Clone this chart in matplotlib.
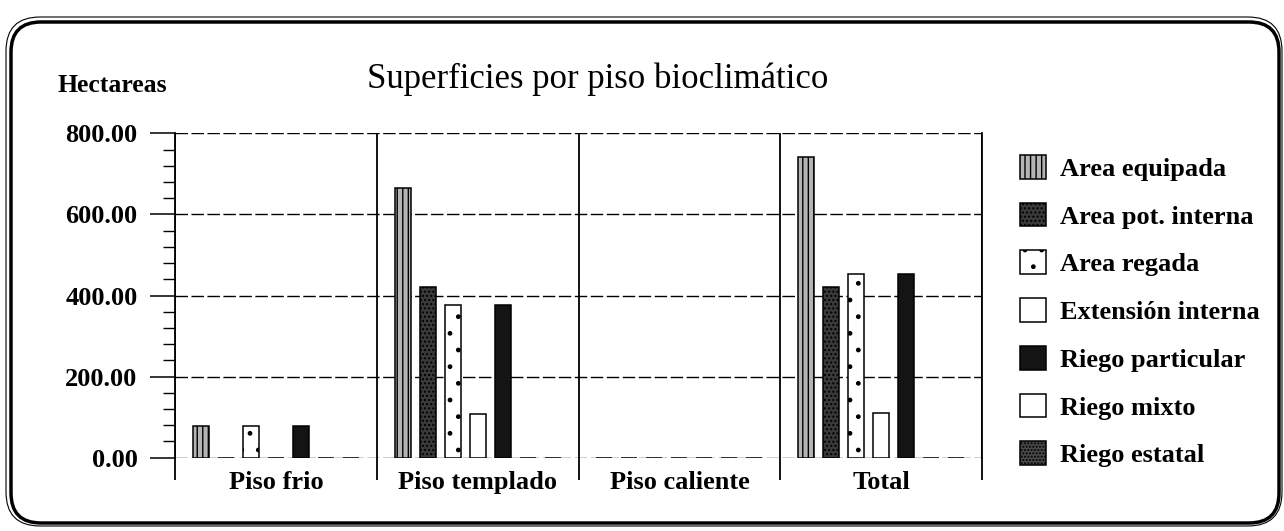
import matplotlib
matplotlib.use("Agg")
import matplotlib.pyplot as plt
import numpy as np
from matplotlib.patches import FancyBboxPatch
from matplotlib.transforms import IdentityTransform
from matplotlib.ticker import MultipleLocator, FixedLocator

plt.rcParams['font.family'] = ['Liberation Serif', 'DejaVu Serif']

# datos (hectareas)
pisos = ['Piso frio', 'Piso templado', 'Piso caliente', 'Total']
series = ['Area equipada', 'Area pot. interna', 'Area regada', 'Extensión interna',
          'Riego particular', 'Riego mixto', 'Riego estatal']
area_equipada = [78, 666, 0, 742]
area_pot_interna = [0, 420, 0, 420]
area_regada = [78, 377, 0, 454]
extension_interna = [0, 108, 0, 110]
riego_particular = [78, 377, 0, 454]
riego_mixto = [0, 0, 0, 0]
riego_estatal = [0, 0, 0, 0]
valores = [area_equipada, area_pot_interna, area_regada, extension_interna,
           riego_particular, riego_mixto, riego_estatal]

# estilos (relleno, trama)
estilos = [('#b4b4b4', '|||'), ('#3a3a3a', '....'), ('white', '.'), ('white', ''),
           ('#141414', ''), ('white', ''), ('#4a4a4a', '.....')]

fig = plt.figure(figsize=(12.84, 5.31), dpi=100)
ax = fig.add_axes([0.1363, 0.1384, 0.6285, 0.6102])

x = np.arange(len(pisos))
paso = 25 / 202
ancho = 16 / 202
for i, (nombre, vals) in enumerate(zip(series, valores)):
    fc, hatch = estilos[i]
    ax.bar(x + (i - 3) * paso, vals, ancho, color=fc, hatch=hatch,
           edgecolor='black', linewidth=1.1, label=nombre, zorder=3)

ax.set_xlim(-0.5, 3.5)
ax.set_ylim(0, 800)

ax.yaxis.set_major_locator(MultipleLocator(200))
ax.yaxis.set_minor_locator(MultipleLocator(40))
ax.yaxis.set_major_formatter(lambda v, p: f'{v:.2f}')
ax.tick_params(axis='y', which='major', direction='out', length=18, width=1.1,
               pad=9, labelsize=19)
ax.tick_params(axis='y', which='minor', direction='out', length=8.5, width=1.0)
for t in ax.get_yticklabels():
    t.set_fontweight('bold')

ax.xaxis.set_major_locator(FixedLocator([-0.5, 0.5, 1.5, 2.5, 3.5]))
ax.xaxis.set_minor_locator(FixedLocator(x))
ax.set_xticklabels([], minor=False)
ax.set_xticklabels(pisos, minor=True, fontsize=19, fontweight='bold')
ax.tick_params(axis='x', which='major', direction='out', length=16, width=1.3)
ax.tick_params(axis='x', which='minor', length=0, pad=10)

ax.grid(axis='y', which='major', color='black', linestyle=(0, (9, 2.5)),
        linewidth=1.0, zorder=1)
ax.grid(axis='x', which='major', color='black', linestyle='-', linewidth=1.3)
ax.set_axisbelow(True)
for lado in ['top', 'bottom']:
    ax.spines[lado].set_visible(False)
ax.spines['left'].set_linewidth(1.3)
ax.spines['right'].set_linewidth(1.3)

fig.text(0.4653, 0.834, 'Superficies por piso bioclimático', ha='center',
         va='baseline', fontsize=25)
fig.text(0.045, 0.827, 'Hectareas', ha='left', va='baseline', fontsize=18.5,
         fontweight='bold')

fig.legend(loc='upper left', bbox_to_anchor=(1020 / 1284, 1 - 155 / 531),
           frameon=False, prop={'size': 19, 'weight': 'bold'},
           handlelength=1.0, handleheight=1.0, handletextpad=0.5,
           labelspacing=0.83, borderpad=0, borderaxespad=0)

# marco redondeado del grafico
H = 531
marco = FancyBboxPatch((11, H - 523), 1268, 501, boxstyle='round,pad=0,rounding_size=30',
                       transform=IdentityTransform(), fill=False, edgecolor='black',
                       linewidth=2.5)
marco2 = FancyBboxPatch((6, H - 526), 1276, 509, boxstyle='round,pad=0,rounding_size=34',
                        transform=IdentityTransform(), fill=False, edgecolor='black',
                        linewidth=0.8)
fig.patches.extend([marco, marco2])

fig.savefig('out.png', dpi=100)
